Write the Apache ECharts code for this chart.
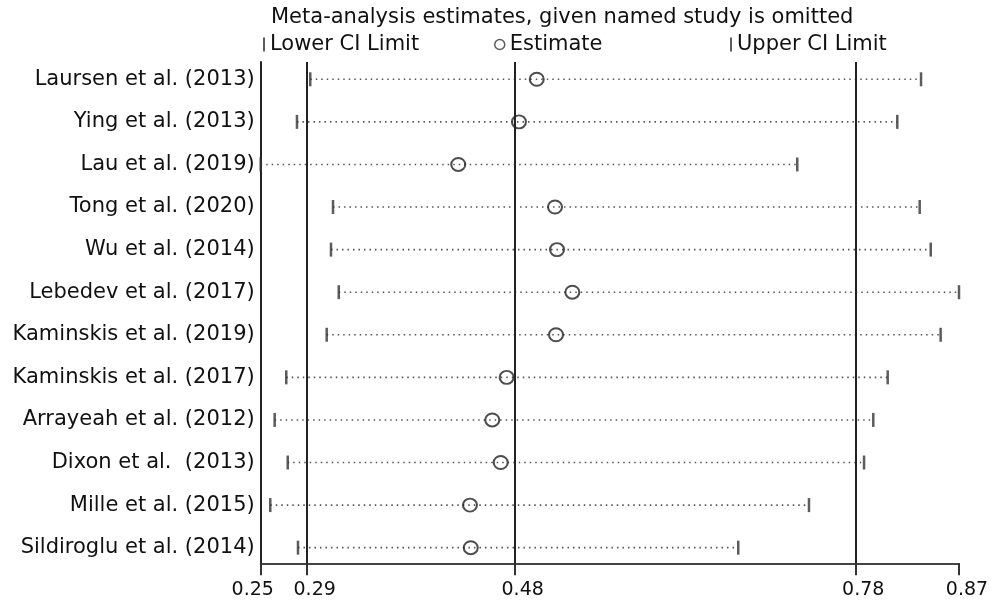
<!DOCTYPE html>
<html><head><meta charset="utf-8">
<script src="https://cdn.jsdelivr.net/npm/echarts@6/dist/echarts.min.js"></script>
<style>html,body{margin:0;padding:0;background:#fff}#c{width:995px;height:603px}</style>
</head><body><div id="c"></div>
<script>
const studies = ['Laursen et al. (2013)','Ying et al. (2013)','Lau et al. (2019)','Tong et al. (2020)','Wu et al. (2014)','Lebedev et al. (2017)','Kaminskis et al. (2019)','Kaminskis et al. (2017)','Arrayeah et al. (2012)','Dixon et al.  (2013)','Mille et al. (2015)','Sildiroglu et al. (2014)'];
const estimates = [0.4951,0.4793,0.4254,0.5113,0.5131,0.5267,0.5122,0.4684,0.4556,0.4631,0.4358,0.4365];
const lowerCI = [0.2940,0.2822,0.2500,0.3142,0.3124,0.3193,0.3086,0.2727,0.2624,0.2740,0.2585,0.2831];
const upperCI = [0.8363,0.8152,0.7264,0.8351,0.8449,0.8700,0.8537,0.8067,0.7939,0.7857,0.7368,0.6740];
const overallValues = [0.2908, 0.4755, 0.7779]; // lower CI, estimate, upper CI of full meta-analysis
const xTickValues = [0.25, 0.2908, 0.4755, 0.7779, 0.87];
const xMin = 0.25, xMax = 0.87;
const rowIndex = studies.map((s, i) => i);

const FONT = 'DejaVu Sans';
const chart = echarts.init(document.getElementById('c'));
const option = {
  backgroundColor: '#fff',
  animation: false,
  title: {
    text: 'Meta-analysis estimates, given named study is omitted',
    left: 266, top: 2,
    textStyle: {fontFamily: FONT, fontSize: 21, fontWeight: 'normal', color: '#111'}
  },
  legend: [
    {data: ['Lower CI Limit'], left: 258, top: 29, icon: 'rect', itemWidth: 2, itemHeight: 14,
     textStyle: {fontFamily: FONT, fontSize: 21, color: '#111'}},
    {data: ['Estimate'], left: 489, top: 29, itemWidth: 10, itemHeight: 10, icon: 'circle',
     itemStyle: {color: 'rgba(0,0,0,0)', borderColor: '#333', borderWidth: 1.5},
     textStyle: {fontFamily: FONT, fontSize: 21, color: '#111'}},
    {data: ['Upper CI Limit'], left: 725, top: 29, icon: 'rect', itemWidth: 2, itemHeight: 14,
     textStyle: {fontFamily: FONT, fontSize: 21, color: '#111'}}
  ],
  grid: {left: 260.7, right: 36, top: 62, bottom: 39.7, containLabel: false},
  xAxis: {
    type: 'value', min: xMin, max: xMax, position: 'bottom',
    splitLine: {show: false},
    axisLine: {onZero: false, lineStyle: {color: '#444', width: 2}},
    axisTick: {show: true, length: 12, customValues: xTickValues, lineStyle: {color: '#333', width: 2}},
    axisLabel: {
      customValues: xTickValues, margin: 17,
      fontFamily: FONT, fontSize: 19, color: '#111',
      formatter: v => (v === xMin ? '{l|' : '{r|') + v.toFixed(2) + '}',
      rich: {
        l: {fontFamily: FONT, fontSize: 19, color: '#111', padding: [0, 16, 0, 0]},
        r: {fontFamily: FONT, fontSize: 19, color: '#111', padding: [0, 0, 0, 16]}
      }
    }
  },
  yAxis: {
    type: 'value', inverse: true, min: -0.406, max: 11.367,
    splitLine: {show: false},
    axisLine: {show: true, onZero: false, lineStyle: {color: '#222', width: 2}},
    axisTick: {show: false},
    axisLabel: {
      customValues: rowIndex, margin: 6,
      fontFamily: FONT, fontSize: 21, color: '#111',
      formatter: v => studies[v]
    }
  },
  series: [
    {
      type: 'custom', name: 'CI', silent: true, z: 1,
      data: rowIndex.map(i => [lowerCI[i], upperCI[i], i]),
      encode: {x: [0, 1], y: 2},
      renderItem: (params, api) => {
        const p1 = api.coord([api.value(0), api.value(2)]);
        const p2 = api.coord([api.value(1), api.value(2)]);
        return {type: 'line', shape: {x1: p1[0], y1: p1[1], x2: p2[0], y2: p2[1]},
          style: {stroke: '#555', lineWidth: 1.6, lineDash: [1.5, 4]}};
      }
    },
    {
      type: 'scatter', name: 'Lower CI Limit', z: 3,
      symbol: 'rect', symbolSize: [2.5, 14],
      itemStyle: {color: '#333'},
      data: rowIndex.map(i => [lowerCI[i], i])
    },
    {
      type: 'scatter', name: 'Estimate', z: 4,
      symbol: 'circle', symbolSize: [14, 13],
      itemStyle: {color: 'rgba(0,0,0,0)', borderColor: '#222', borderWidth: 2},
      data: rowIndex.map(i => [estimates[i], i]),
      markLine: {
        silent: true, symbol: 'none', animation: false, precision: 4,
        label: {show: false},
        lineStyle: {color: '#222', width: 2, type: 'solid'},
        data: overallValues.map(v => ({xAxis: v}))
      }
    },
    {
      type: 'scatter', name: 'Upper CI Limit', z: 3,
      symbol: 'rect', symbolSize: [2.5, 14],
      itemStyle: {color: '#333'},
      data: rowIndex.map(i => [upperCI[i], i])
    }
  ]
};
chart.setOption(option);
</script>
</body></html>
